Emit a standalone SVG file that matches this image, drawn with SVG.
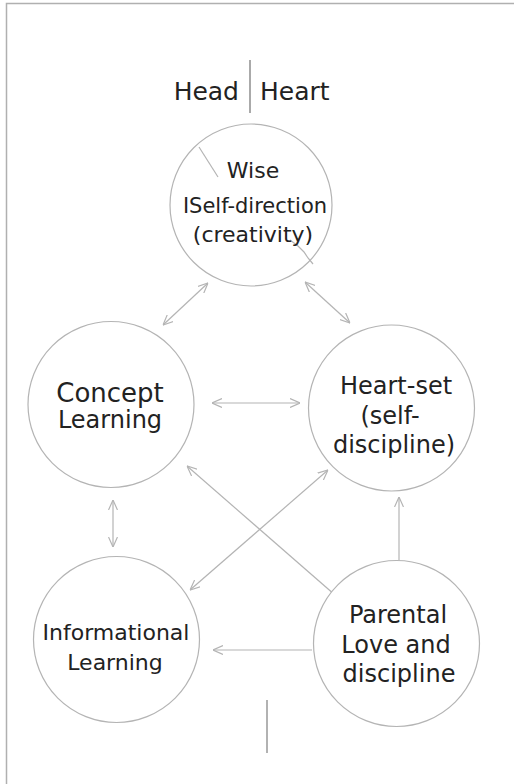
<svg xmlns="http://www.w3.org/2000/svg" width="515" height="784" viewBox="0 0 515 784">
<style>
.c{fill:#fff;stroke:#b4b4b4;stroke-width:1.2}
.t{font-family:"DejaVu Sans","Liberation Sans",sans-serif;fill:#222;text-anchor:middle}
.cn{stroke:#b4b4b4;stroke-width:1.2;fill:none}
.fr{stroke:#b0b0b0;stroke-width:1.5;fill:none}
</style>
<defs>
<marker id="ah" viewBox="0 0 10 10" refX="10" refY="5" markerWidth="10" markerHeight="10" markerUnits="userSpaceOnUse" orient="auto-start-reverse">
<path d="M0,0.5 L10,5 L0,9.5" fill="none" stroke="#b4b4b4" stroke-width="1.2"/>
</marker>
</defs>
<rect width="515" height="784" fill="#fff"/>
<g id="frame">
<path class="fr" d="M6.5,784 V3.5 H514"/>
</g>
<g id="header">
<text class="t" x="239" y="100" font-size="25" style="text-anchor:end">Head</text>
<text class="t" x="260" y="100" font-size="25" style="text-anchor:start">Heart</text>
<line x1="250" y1="60" x2="250" y2="113" stroke="#aaa" stroke-width="2"/>
</g>
<g id="connectors">
<line class="cn" x1="208" y1="283" x2="163" y2="325" marker-start="url(#ah)" marker-end="url(#ah)"/>
<line class="cn" x1="305" y1="282" x2="350" y2="323" marker-start="url(#ah)" marker-end="url(#ah)"/>
<line class="cn" x1="212" y1="403" x2="300" y2="403" marker-start="url(#ah)" marker-end="url(#ah)"/>
<line class="cn" x1="113" y1="500" x2="113" y2="547" marker-start="url(#ah)" marker-end="url(#ah)"/>
<line class="cn" x1="335" y1="595" x2="187" y2="466" marker-end="url(#ah)"/>
<line class="cn" x1="190" y1="590" x2="328" y2="470" marker-start="url(#ah)" marker-end="url(#ah)"/>
<line class="cn" x1="399" y1="560" x2="399" y2="497" marker-end="url(#ah)"/>
<line class="cn" x1="312" y1="650" x2="213" y2="650" marker-end="url(#ah)"/>
</g>
<g id="wise">
<circle class="c" cx="251" cy="205" r="81"/>
<line class="cn" x1="199" y1="147" x2="218" y2="177"/>
<path class="cn" d="M290,240 L298,246 L304,252 L308,258 L313,264"/>
<text class="t" x="253" y="178" font-size="22">Wise</text>
<text class="t" x="255" y="213" font-size="21">ISelf-direction</text>
<text class="t" x="253" y="242" font-size="22">(creativity)</text>
</g>
<g id="concept">
<circle class="c" cx="111" cy="404.5" r="83"/>
<text class="t" x="110" y="402" font-size="26">Concept</text>
<text class="t" x="110" y="428" font-size="24">Learning</text>
</g>
<g id="heartset">
<circle class="c" cx="391.5" cy="408" r="83"/>
<text class="t" x="396" y="394" font-size="24">Heart-set</text>
<text class="t" x="390" y="424" font-size="24">(self-</text>
<text class="t" x="394" y="453" font-size="24">discipline)</text>
</g>
<g id="informational">
<circle class="c" cx="116.5" cy="639.5" r="83"/>
<text class="t" x="116" y="640" font-size="22">Informational</text>
<text class="t" x="115" y="670" font-size="22">Learning</text>
</g>
<g id="parental">
<circle class="c" cx="396.5" cy="643.5" r="83"/>
<text class="t" x="398" y="623" font-size="24">Parental</text>
<text class="t" x="396" y="653" font-size="24">Love and</text>
<text class="t" x="399" y="682" font-size="24">discipline</text>
</g>
<g id="footer">
<line x1="267" y1="700" x2="267" y2="753" stroke="#aaa" stroke-width="1.8"/>
</g>
</svg>
